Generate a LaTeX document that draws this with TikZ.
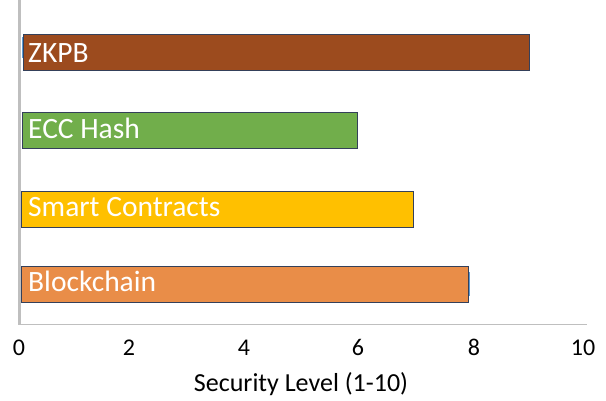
\documentclass[tikz,border=0pt]{standalone}
\usepackage{fontspec}
\setmainfont{Carlito}
\definecolor{zkpbc}{HTML}{9C4B1E}
\definecolor{eccc}{HTML}{71AE4B}
\definecolor{smartc}{HTML}{FFC000}
\definecolor{blockc}{HTML}{E98D48}
\definecolor{barline}{HTML}{34405A}
\definecolor{axisc}{HTML}{BFBFBF}
\definecolor{sliver}{HTML}{5B9BD5}
\begin{document}
\begin{tikzpicture}[x=1pt,y=-1pt,
  bar/.style={draw=barline, line width=1.2pt, inner sep=0pt, anchor=north west, minimum height=36pt},
  lbl/.style={text=white, font=\fontsize{29.5}{29.5}\selectfont, anchor=base west, inner sep=0pt},
  tick/.style={text=black, font=\fontsize{24}{24}\selectfont, anchor=base, inner sep=0pt},
  ttl/.style={text=black, font=\fontsize{26}{26}\selectfont, anchor=center, inner sep=0pt},
  axline/.style={draw=axisc}]
\useasboundingbox (0,0) rectangle (606,401);
% axes
\coordinate (ytop) at (19.5,0);
\coordinate (ybot) at (19.5,324.5);
\coordinate (xl) at (18,324.5);
\coordinate (xr) at (587,324.5);
\draw[axline, line width=2.4pt] (ytop) -- (ybot);
\draw[axline, line width=1.5pt] (xl) -- (xr);
% small slivers
\fill[sliver] (21.5,37) rectangle (23.5,58);
\fill[sliver] (467,272) rectangle (470,296);
% bars
\node[bar, fill=zkpbc, minimum width=506pt] (zkpb) at (23,34) {};
\node[bar, fill=eccc, minimum width=335pt] (ecc) at (22,112) {};
\node[bar, fill=smartc, minimum width=392pt] (smart) at (21,191) {};
\node[bar, fill=blockc, minimum width=447pt] (block) at (21,266) {};
% labels
\node[lbl] (zkpbl) at (28,63) {ZKPB};
\node[lbl] (eccl) at (28,139) {ECC Hash};
\node[lbl] (smartl) at (28,216.5) {Smart Contracts};
\node[lbl] (blockl) at (28,292) {Blockchain};
% ticks
\node[tick] (t0) at (19,355.5) {0};
\node[tick] (t2) at (129,355.5) {2};
\node[tick] (t4) at (244,355.5) {4};
\node[tick] (t6) at (358,355.5) {6};
\node[tick] (t8) at (474,355.5) {8};
\node[tick] (t10) at (583,355.5) {10};
\node[ttl] (title) at (301,384) {Security Level (1-10)};
\end{tikzpicture}
\end{document}
